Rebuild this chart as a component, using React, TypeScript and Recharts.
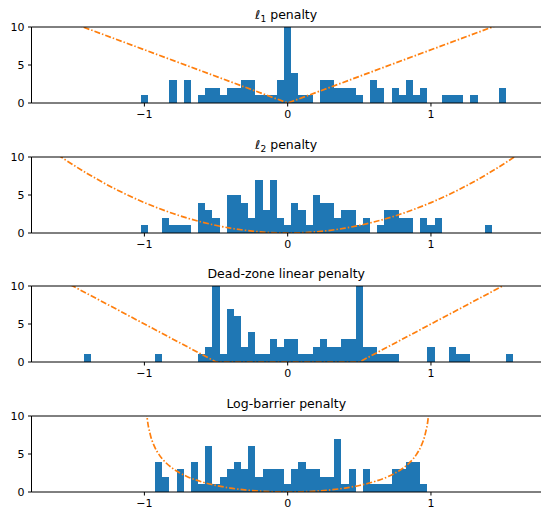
import React from "react";
import {
  ComposedChart,
  Bar,
  Line,
  XAxis,
  YAxis,
  ReferenceLine,
  Customized,
} from "recharts";

// histogram bins (centres), 0.05 wide; counts
const BIN_WIDTH = 0.05;

const L1_BINS = [-1.0, -0.8, -0.7, -0.6, -0.55, -0.5, -0.45, -0.4, -0.35, -0.3, -0.25, -0.2, -0.15, -0.1, -0.05, 0, 0.05, 0.1, 0.15, 0.25, 0.3, 0.35, 0.4, 0.45, 0.5, 0.6, 0.65, 0.75, 0.8, 0.85, 0.9, 0.95, 1.1, 1.15, 1.2, 1.3, 1.5];
const L1_COUNTS = [1, 3, 3, 1, 2, 2, 1, 2, 2, 3, 3, 1, 1, 1, 3, 32, 4, 1, 1, 3, 3, 2, 2, 2, 1, 3, 2, 2, 1, 3, 1, 2, 1, 1, 1, 1, 2];

const L2_BINS = [-1.0, -0.85, -0.8, -0.75, -0.7, -0.6, -0.55, -0.5, -0.4, -0.35, -0.3, -0.25, -0.2, -0.15, -0.1, -0.05, 0, 0.05, 0.1, 0.15, 0.2, 0.25, 0.3, 0.35, 0.4, 0.45, 0.5, 0.55, 0.65, 0.7, 0.75, 0.8, 0.85, 0.95, 1.0, 1.05, 1.4];
const L2_COUNTS = [1, 2, 1, 1, 1, 4, 3, 2, 5, 5, 4, 2, 7, 3, 7, 2, 1, 4, 3, 1, 5, 4, 4, 2, 3, 3, 1, 2, 1, 3, 3, 2, 2, 2, 1, 2, 1];

const DZ_BINS = [-1.4, -0.9, -0.6, -0.55, -0.5, -0.45, -0.4, -0.35, -0.3, -0.25, -0.2, -0.15, -0.1, -0.05, 0, 0.05, 0.1, 0.15, 0.2, 0.25, 0.3, 0.35, 0.4, 0.45, 0.5, 0.55, 0.6, 0.65, 0.7, 0.75, 1.0, 1.15, 1.2, 1.25, 1.55];
const DZ_COUNTS = [1, 1, 1, 2, 15, 1, 7, 6, 2, 4, 1, 1, 3, 2, 3, 3, 1, 1, 2, 3, 2, 2, 3, 3, 15, 2, 2, 1, 1, 1, 2, 2, 1, 1, 1];

const LB_BINS = [-0.9, -0.85, -0.75, -0.65, -0.6, -0.55, -0.5, -0.45, -0.4, -0.35, -0.3, -0.25, -0.2, -0.15, -0.1, -0.05, 0, 0.05, 0.1, 0.15, 0.2, 0.25, 0.3, 0.35, 0.4, 0.45, 0.55, 0.6, 0.65, 0.7, 0.75, 0.8, 0.85, 0.9, 0.95];
const LB_COUNTS = [4, 2, 3, 4, 1, 6, 1, 2, 3, 4, 3, 6, 2, 3, 3, 3, 1, 3, 4, 3, 3, 2, 2, 7, 1, 3, 3, 1, 1, 1, 3, 3, 4, 4, 1];

const L1_CURVE_X = [-1.8, 0, 1.8];
const L1_CURVE_Y = [12.6, 0, 12.6];

const L2_CURVE_X = [-1.8, -1.6, -1.4, -1.2, -1.0, -0.8, -0.6, -0.4, -0.2, 0, 0.2, 0.4, 0.6, 0.8, 1.0, 1.2, 1.4, 1.6, 1.8];
const L2_CURVE_Y = [12.96, 10.24, 7.84, 5.76, 4.0, 2.56, 1.44, 0.64, 0.16, 0, 0.16, 0.64, 1.44, 2.56, 4.0, 5.76, 7.84, 10.24, 12.96];

const DZ_CURVE_X = [-1.8, -0.5, 0.5, 1.8];
const DZ_CURVE_Y = [13, 0, 0, 13];

const LB_CURVE_X = [-0.995, -0.99, -0.98, -0.96, -0.93, -0.9, -0.85, -0.8, -0.7, -0.6, -0.5, -0.4, -0.3, -0.2, -0.1, 0, 0.1, 0.2, 0.3, 0.4, 0.5, 0.6, 0.7, 0.8, 0.85, 0.9, 0.93, 0.96, 0.98, 0.99, 0.995];
const LB_CURVE_Y = [13.8, 11.75, 9.66, 7.64, 6.0, 4.98, 3.85, 3.07, 2.02, 1.34, 0.86, 0.52, 0.28, 0.12, 0.03, 0, 0.03, 0.12, 0.28, 0.52, 0.86, 1.34, 2.02, 3.07, 3.85, 4.98, 6.0, 7.64, 9.66, 11.75, 13.8];

const X_TICKS = [-1, 0, 1];
const Y_TICKS = [0, 5, 10];

const X_MIN = -1.788;
const X_MAX = 1.768;
const WIDTH = 541;
const Y_AXIS_W = 31.5;
const PX_PER_UNIT = (WIDTH - Y_AXIS_W) / (X_MAX - X_MIN);

const BLUE = "#1f77b4";
const ORANGE = "#ff7f0e";
const FONT = "'DejaVu Sans', sans-serif";

const fmt = (v: number) => String(v).replace("-", "\u2212");

// bars are drawn edge to edge like a histogram: width = one bin on the x scale
const HistBar = (p: any) => {
  if (p.height == null || !p.payload) return null;
  const w = BIN_WIDTH * PX_PER_UNIT;
  const cx = Y_AXIS_W + (p.payload.x - X_MIN) * PX_PER_UNIT;
  return (
    <rect
      x={cx - w / 2}
      y={p.y}
      width={w}
      height={p.height}
      fill={BLUE}
      shapeRendering="crispEdges"
    />
  );
};

interface PanelProps {
  top: number;
  title: React.ReactNode;
  bins: number[];
  counts: number[];
  curveX: number[];
  curveY: number[];
  curveType: "linear" | "natural" | "monotone";
}

function Panel({ top, title, bins, counts, curveX, curveY, curveType }: PanelProps) {
  const data = bins.map((x, i) => ({ x, count: counts[i] }));
  const curve = curveX.map((x, i) => ({ x, y: curveY[i] }));

  const Title = () => (
    <text
      x={Y_AXIS_W + (WIDTH - Y_AXIS_W) / 2}
      y={19}
      textAnchor="middle"
      fontFamily={FONT}
      fontSize={12.5}
      fill="#000"
    >
      {title}
    </text>
  );

  return (
    <div style={{ position: "absolute", left: 0, top }}>
      <ComposedChart
        width={WIDTH}
        height={130}
        data={data}
        margin={{ top: 27, right: 0, bottom: 0, left: 0 }}
      >
        <XAxis
          type="number"
          dataKey="x"
          domain={[X_MIN, X_MAX]}
          allowDataOverflow
          ticks={X_TICKS}
          tickFormatter={fmt}
          height={27}
          tickSize={3.5}
          tickMargin={4}
          axisLine={{ stroke: "#000", strokeWidth: 1 }}
          tickLine={{ stroke: "#000" }}
          tick={{ fontFamily: FONT, fontSize: 11, fill: "#000" }}
        />
        <YAxis
          type="number"
          domain={[0, 10]}
          allowDataOverflow
          ticks={Y_TICKS}
          width={Y_AXIS_W}
          tickSize={3.5}
          tickMargin={3.5}
          axisLine={{ stroke: "#000", strokeWidth: 1 }}
          tickLine={{ stroke: "#000" }}
          tick={{ fontFamily: FONT, fontSize: 11, fill: "#000" }}
        />
        <Bar dataKey="count" isAnimationActive={false} shape={(p: any) => <HistBar {...p} />} />
        <Line
          data={curve}
          dataKey="y"
          type={curveType}
          stroke={ORANGE}
          strokeWidth={1.7}
          strokeDasharray="6 2 1.5 2"
          dot={false}
          activeDot={false}
          isAnimationActive={false}
        />
        <ReferenceLine y={10} stroke="#000" strokeWidth={1} />
        <Customized component={Title} />
      </ComposedChart>
    </div>
  );
}

const sub = (base: string, idx: string) => (
  <>
    <tspan>{base}</tspan>
    <tspan fontSize={9} dy={3}>{idx}</tspan>
    <tspan dy={-3}> penalty</tspan>
  </>
);

export default function App() {
  return (
    <div
      style={{
        position: "relative",
        width: WIDTH,
        height: 509,
        overflow: "hidden",
        background: "#fff",
        fontFamily: FONT,
      }}
    >
      <style>{`body { margin: 0; }`}</style>
      <Panel top={0} title={sub("\u2113", "1")} bins={L1_BINS} counts={L1_COUNTS} curveX={L1_CURVE_X} curveY={L1_CURVE_Y} curveType="linear" />
      <Panel top={130} title={sub("\u2113", "2")} bins={L2_BINS} counts={L2_COUNTS} curveX={L2_CURVE_X} curveY={L2_CURVE_Y} curveType="natural" />
      <Panel top={259} title="Dead-zone linear penalty" bins={DZ_BINS} counts={DZ_COUNTS} curveX={DZ_CURVE_X} curveY={DZ_CURVE_Y} curveType="linear" />
      <Panel top={389} title="Log-barrier penalty" bins={LB_BINS} counts={LB_COUNTS} curveX={LB_CURVE_X} curveY={LB_CURVE_Y} curveType="monotone" />
    </div>
  );
}
